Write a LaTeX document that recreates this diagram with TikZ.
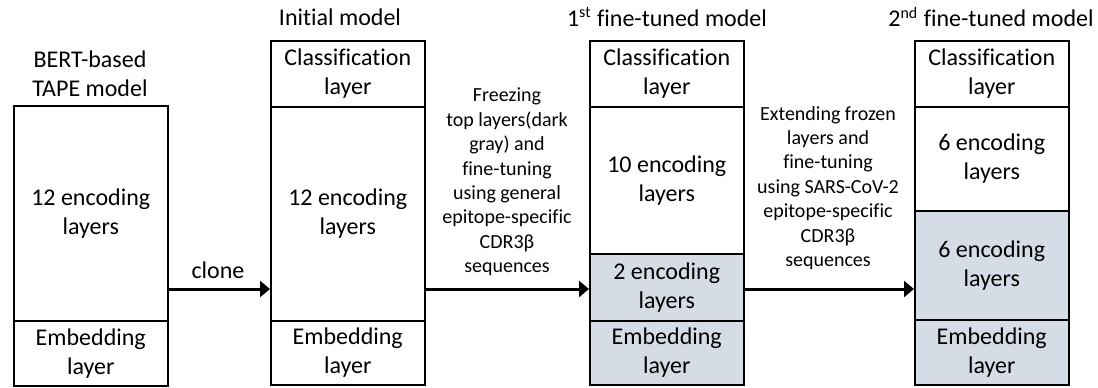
\documentclass[tikz,border=0pt]{standalone}
\usepackage{fontspec}
\setmainfont{Carlito}[Ligatures={NoCommon}]
\usetikzlibrary{arrows.meta}
\definecolor{frozen}{HTML}{D6DCE5}
\tikzset{
  layer/.style={draw=black, line width=0.75pt, fill=white, anchor=north west,
    minimum width=77pt, inner sep=0pt, align=center,
    font=\fontsize{12}{14.5}\selectfont},
  frozenlayer/.style={layer, fill=frozen},
  title/.style={align=center, font=\fontsize{12}{14.5}\selectfont},
  note/.style={align=center, font=\fontsize{10}{12.2}\selectfont},
  arr/.style={line width=1.5pt, -{Triangle[length=5pt,width=8pt]}}
}
\begin{document}
\begin{tikzpicture}[x=0.5pt,y=-0.5pt]
\useasboundingbox (0,0) rectangle (1098,387);

% BERT-based TAPE model
\node[layer, minimum height=107.5pt] (b1enc) at (13,105) {12 encoding\\layers};
\node[layer, minimum height=32.5pt] (b1emb) at (13,320) {Embedding\\layer};
\node[title] (t1) at (90,74) {BERT-based\\TAPE model};

% Initial model
\node[layer, minimum height=33pt] (b2cls) at (270,40) {Classification\\layer};
\node[layer, minimum height=107pt] (b2enc) at (270,106) {12 encoding\\layers};
\node[layer, minimum height=32pt] (b2emb) at (270,320) {Embedding\\layer};
\node[title] (t2) at (340,17) {Initial model};

% 1st fine-tuned model
\node[layer, minimum height=33pt] (b3cls) at (589,40) {Classification\\layer};
\node[layer, minimum height=73.5pt] (b3enc) at (589,106) {10 encoding\\layers};
\node[frozenlayer, minimum height=33.5pt] (b3frz) at (589,253) {2 encoding\\layers};
\node[frozenlayer, minimum height=32pt] (b3emb) at (589,320) {Embedding\\layer};
\node[title] (t3) at (667,17) {1\textsuperscript{st} fine-tuned model};

% 2nd fine-tuned model
\node[layer, minimum height=33pt] (b4cls) at (914,40) {Classification\\layer};
\node[layer, minimum height=52pt] (b4enc) at (914,106) {6 encoding\\layers};
\node[frozenlayer, minimum height=54.5pt] (b4frz) at (914,210) {6 encoding\\layers};
\node[frozenlayer, minimum height=32.5pt] (b4emb) at (914,319) {Embedding\\layer};
\node[title] (t4) at (991,17) {2\textsuperscript{nd} fine-tuned model};

% connectors
\coordinate (row) at (0,289);
\draw[arr] (b1enc.east |- row) -- (b2enc.west |- row);
\draw[arr] (b2enc.east |- row) -- (b3frz.west |- row);
\draw[arr] (b3frz.east |- row) -- (b4frz.west |- row);

% connector labels
\node[title] (l1) at (218,270) {clone};
\node[note] (l2) at (507,182) {Freezing\\top layers(dark\\gray) and\\fine-tuning\\using general\\epitope-specific\\CDR3β\\sequences};
\node[note] (l3) at (828,188) {Extending frozen\\layers and\\fine-tuning\\using SARS-CoV-2\\epitope-specific\\CDR3β\\sequences};
\end{tikzpicture}
\end{document}
